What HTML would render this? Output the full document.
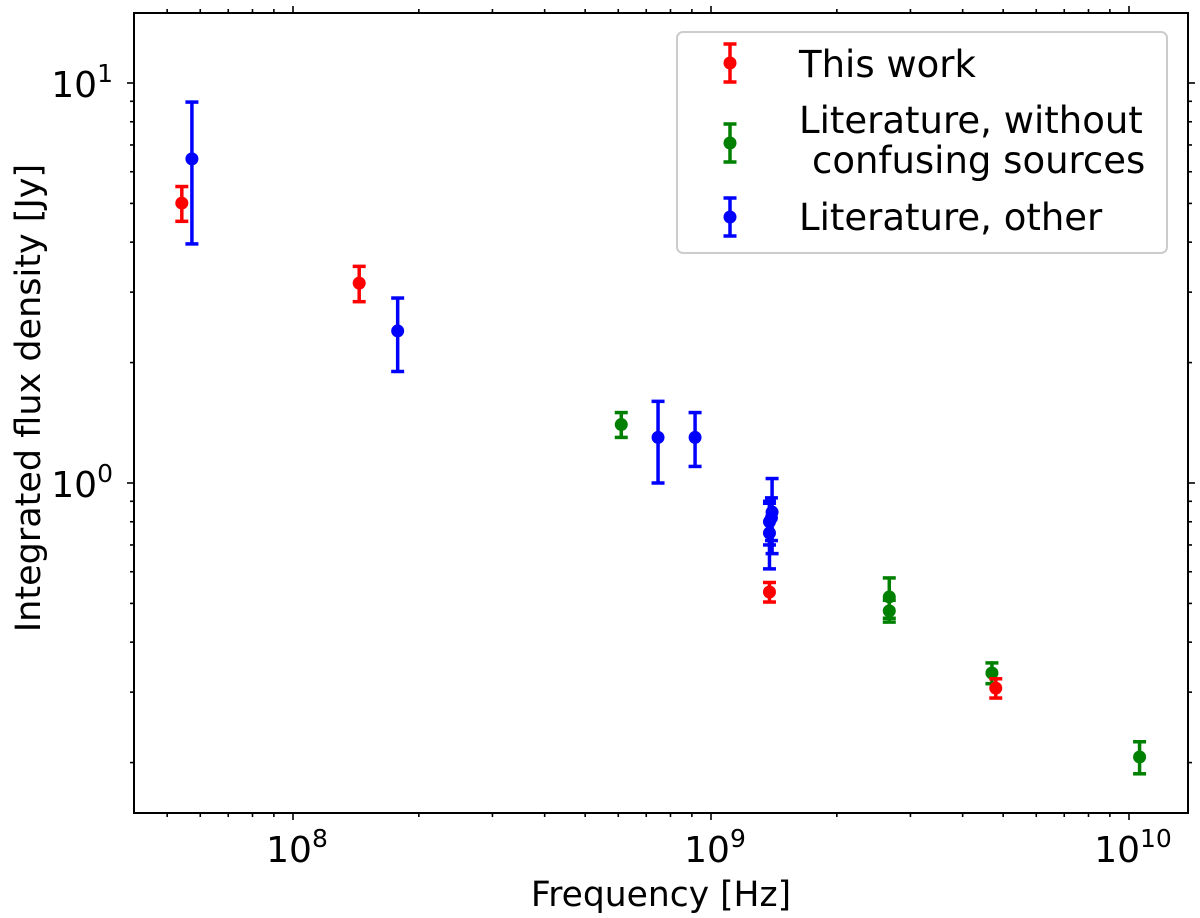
<!DOCTYPE html>
<html><head><meta charset="utf-8"><style>
html,body{margin:0;padding:0;background:#fff;}
svg{display:block;font-family:"DejaVu Sans","Liberation Sans",sans-serif;}
</style></head><body>
<svg id="chart" width="1200" height="918" viewBox="0 0 1200 918" xmlns="http://www.w3.org/2000/svg">
<rect x="0" y="0" width="1200" height="918" fill="#fff"/>
<g id="marks"></g>
<g id="axes"></g>
<rect x="134" y="13" width="1054" height="800" fill="none" stroke="#000" stroke-width="2"/>
<text x="661" y="906" font-size="34.5" text-anchor="middle">Frequency [Hz]</text>
<text transform="translate(40,398) rotate(-90)" font-size="35" text-anchor="middle">Integrated flux density [Jy]</text>
<g id="legend">
<rect x="677" y="32" width="490" height="221" rx="6" fill="#fff" fill-opacity="0.8" stroke="#ccc" stroke-width="2"/>
<text x="799" y="77" font-size="37">This work</text>
<text x="799" y="133" font-size="37">Literature, without</text>
<text x="812" y="173" font-size="37">confusing sources</text>
<text x="799" y="230" font-size="37">Literature, other</text>
</g>
</svg>
<script>
// ---- data ----
const redFreq = [5.42e7, 1.44e8, 1.38e9, 4.8e9];
const redFlux = [5.01, 3.16, 0.534, 0.307];
const redErr  = [0.5, 0.32, 0.03, 0.017];
const greenFreq = [6.1e8, 2.67e9, 2.67e9, 4.7e9, 1.06e10];
const greenFlux = [1.40, 0.519, 0.479, 0.335, 0.2065];
const greenErr  = [0.1, 0.06, 0.03, 0.02, 0.019];
const blueFreq = [5.73e7, 1.78e8, 7.47e8, 9.16e8, 1.40e9, 1.395e9, 1.38e9, 1.38e9];
const blueFlux = [6.46, 2.40, 1.30, 1.30, 0.846, 0.818, 0.80, 0.75];
const blueErr  = [2.5, 0.5, 0.3, 0.2, 0.18, 0.1, 0.1, 0.14];
const xMajorExp = [8, 9, 10];
const yMajorExp = [0, 1];

const NS = "http://www.w3.org/2000/svg";
const L = 134, R = 1188, T = 13, B = 813;
const xLogMin = 8 - (293 - L) / 418, xLogMax = 9 + (R - 711) / 418;
const yLogMin = -(B - 483) / 400, yLogMax = (483 - T) / 400;
function xs(f){ return L + (Math.log10(f) - xLogMin) / (xLogMax - xLogMin) * (R - L); }
function ys(v){ return B - (Math.log10(v) - yLogMin) / (yLogMax - yLogMin) * (B - T); }
function mk(tag, attrs, parent){ const e = document.createElementNS(NS, tag); for (const k in attrs) e.setAttribute(k, attrs[k]); parent.appendChild(e); return e; }

const marks = document.getElementById('marks');
const axes = document.getElementById('axes');

function drawSeries(freqs, flux, err, color, name){
  const g = mk('g', {}, marks);
  
  
  for (let i = 0; i < freqs.length; i++){
    const x = xs(freqs[i]), y = ys(flux[i]);
    const y1 = ys(flux[i] + err[i]), y2 = ys(Math.max(flux[i] - err[i], 1e-6));
    const eb = mk('g', {stroke: color, 'stroke-width': 3.5}, g);
    
    
    mk('line', {x1: x, x2: x, y1: y1, y2: y2}, eb);
    mk('line', {x1: x - 6.5, x2: x + 6.5, y1: y1, y2: y1}, eb);
    mk('line', {x1: x - 6.5, x2: x + 6.5, y1: y2, y2: y2}, eb);
    const c = mk('circle', {cx: x, cy: y, r: 6.5, fill: color}, g);
    
    
  }
}
drawSeries(greenFreq, greenFlux, greenErr, '#008000', 'literature-clean');
drawSeries(blueFreq, blueFlux, blueErr, '#0000ff', 'literature-other');
drawSeries(redFreq, redFlux, redErr, '#ff0000', 'this-work');

function tick(x1, y1, x2, y2){ const t = mk('line', {x1, y1, x2, y2, stroke: '#000', 'stroke-width': 1.6}, axes);   }
for (let e = 7; e <= 10; e++){
  for (let m = 1; m <= 9; m++){
    const f = m * Math.pow(10, e), x = xs(f);
    if (x < L - 0.5 || x > R + 0.5) continue;
    const len = m === 1 ? 7 : 4;
    tick(x, B, x, B + len); tick(x, T, x, T - len);
  }
}
for (let e = -1; e <= 1; e++){
  for (let m = 1; m <= 9; m++){
    const v = m * Math.pow(10, e), y = ys(v);
    if (y < T - 0.5 || y > B + 0.5) continue;
    const len = m === 1 ? 7 : 4;
    tick(L, y, L - len, y); tick(R, y, R + len, y);
  }
}
xMajorExp.forEach(e => {
  const x = xs(Math.pow(10, e));
  const t = mk('text', {x: x + 4, y: 862, 'font-size': 36, 'text-anchor': 'middle'}, axes);
  
  
  const s1 = mk('tspan', {}, t); s1.textContent = '10';
  const s2 = mk('tspan', {'font-size': 25, dy: -15}, t); s2.textContent = String(e);
});
yMajorExp.forEach(e => {
  const y = ys(Math.pow(10, e));
  const t = mk('text', {x: 113, y: y + 14, 'font-size': 36, 'text-anchor': 'end'}, axes);
  
  
  const s1 = mk('tspan', {}, t); s1.textContent = '10';
  const s2 = mk('tspan', {'font-size': 25, dy: -15}, t); s2.textContent = String(e);
});

const legend = document.getElementById('legend');
[['#ff0000', 63, 'legend-marker-this-work'], ['#008000', 143, 'legend-marker-literature-clean'], ['#0000ff', 217, 'legend-marker-literature-other']].forEach(([c, y, n]) => {
  const g = mk('g', {}, legend);
  
  
  mk('line', {x1: 730, x2: 730, y1: y - 19, y2: y + 19, stroke: c, 'stroke-width': 3.5}, g);
  mk('line', {x1: 723.5, x2: 736.5, y1: y - 19, y2: y - 19, stroke: c, 'stroke-width': 3.5}, g);
  mk('line', {x1: 723.5, x2: 736.5, y1: y + 19, y2: y + 19, stroke: c, 'stroke-width': 3.5}, g);
  mk('circle', {cx: 730, cy: y, r: 6.5, fill: c}, g);
});
</script>
</body></html>
